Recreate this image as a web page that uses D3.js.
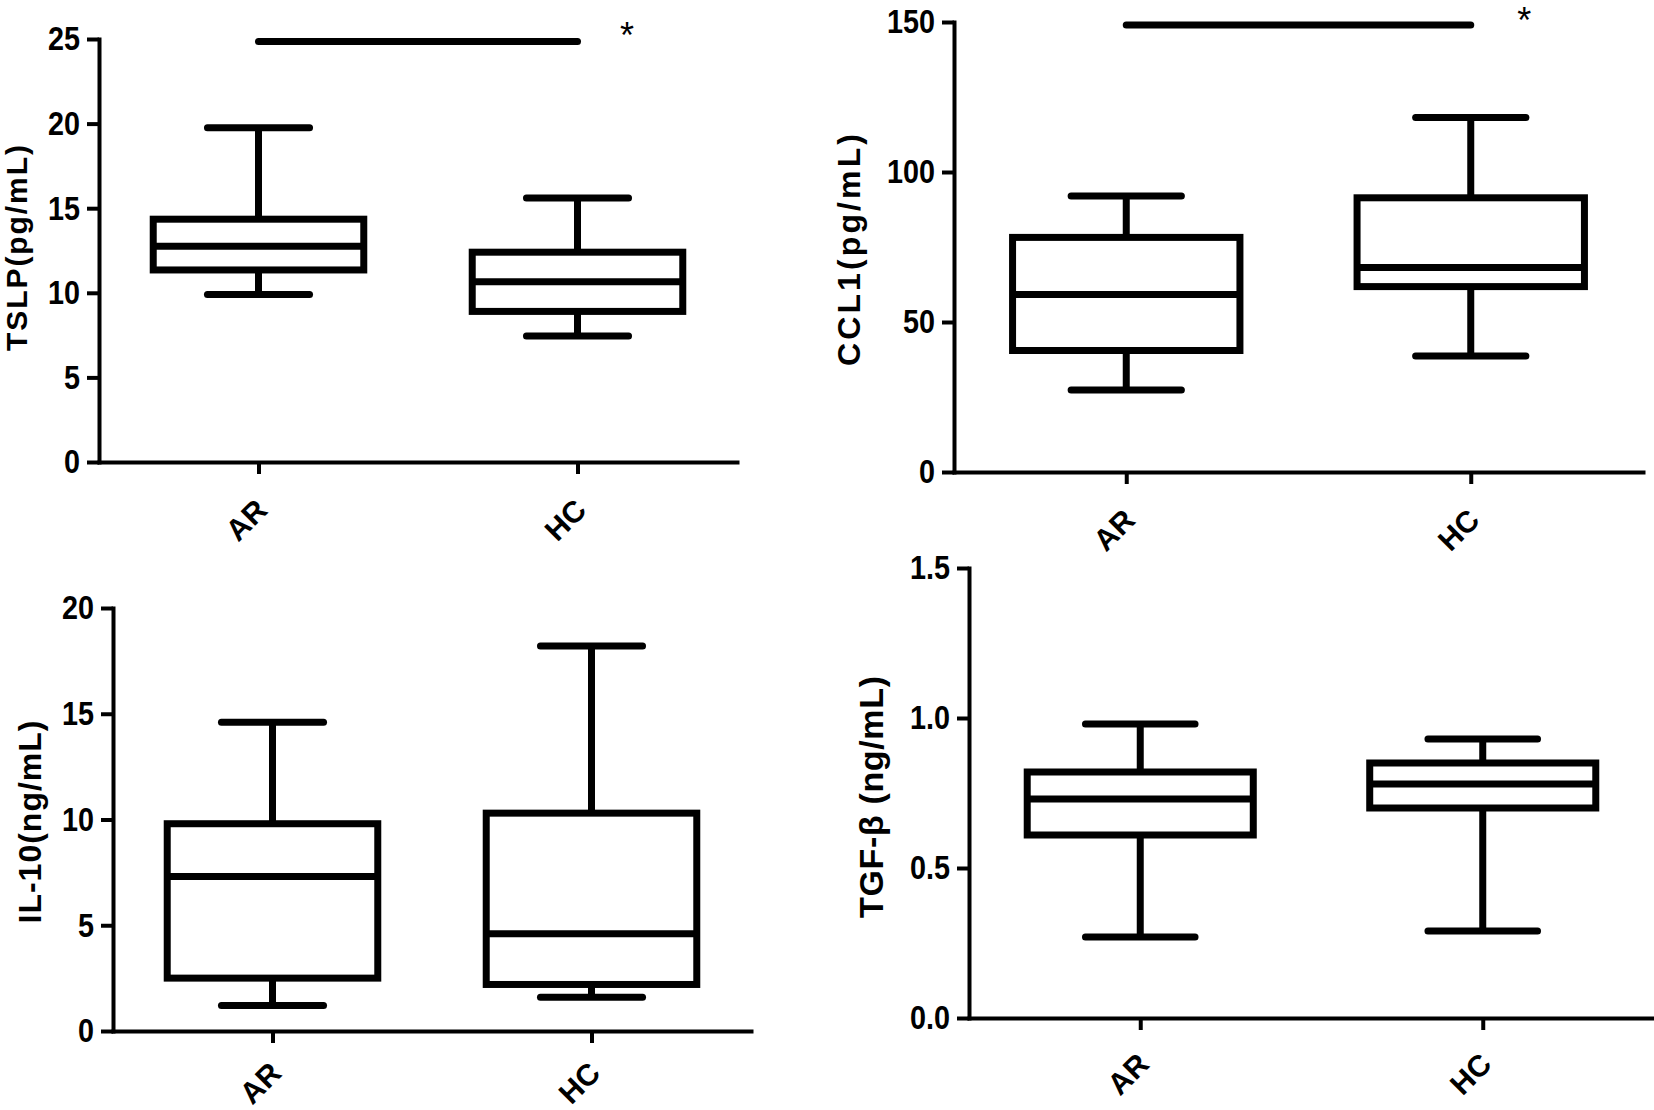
<!DOCTYPE html>
<html>
<head>
<meta charset="utf-8">
<script src="https://cdn.jsdelivr.net/npm/d3@7"></script>
<style>
  body { margin: 0; background: #fff; }
</style>
</head>
<body>
<script>
// groups on the x axis
const groups = ["AR", "HC"];

// box statistics per group: [min, Q1, median, Q3, max]
const tslp = [[9.9, 11.35, 12.75, 14.35, 19.75], [7.45, 8.9, 10.65, 12.4, 15.6]];
const ccl1 = [[27.3, 40.5, 59.2, 78.2, 92.0], [38.7, 61.8, 68.2, 91.4, 118.2]];
const il10 = [[1.2, 2.5, 7.3, 9.8, 14.6], [1.6, 2.2, 4.6, 10.3, 18.2]];
const tgfb = [[0.27, 0.61, 0.73, 0.82, 0.98], [0.29, 0.70, 0.78, 0.85, 0.93]];

// y tick values
const tslpTicks = [0, 5, 10, 15, 20, 25];
const ccl1Ticks = [0, 50, 100, 150];
const il10Ticks = [0, 5, 10, 15, 20];
const tgfbTicks = [0, 0.5, 1.0, 1.5];

// significance bar level and asterisk level (null = none)
const sigBar = [24.85, 149, null, null];
const sigStar = [25.7, 153.3, null, null];

const width = 1654;
const height = 1110;

const svg = d3.select("body").append("svg")
    .attr("width", width)
    .attr("height", height)
    .attr("xmlns", "http://www.w3.org/2000/svg");

svg.append("rect")
    .attr("width", width)
    .attr("height", height)
    .attr("fill", "#fff");

// layout of the four panels (pixel frames); ldy = offset of the rotated group labels
const panels = [
    { stats: tslp, ticks: tslpTicks, fmt: d3.format("d"), label: "TSLP(pg/mL)",
      x0: 99, x1: 737, top: 39, bottom: 462, lx: 27, ly: 248, lsize: 30, llen: 206, ldy: 50 },
    { stats: ccl1, ticks: ccl1Ticks, fmt: d3.format("d"), label: "CCL1(pg/mL)",
      x0: 954, x1: 1643, top: 22, bottom: 472, lx: 860, ly: 250, lsize: 32, llen: 232, ldy: 50 },
    { stats: il10, ticks: il10Ticks, fmt: d3.format("d"), label: "IL-10(ng/mL)",
      x0: 113, x1: 751, top: 608, bottom: 1031, lx: 41, ly: 822, lsize: 32, llen: 203, ldy: 44 },
    { stats: tgfb, ticks: tgfbTicks, fmt: d3.format(".1f"), label: "TGF-β (ng/mL)",
      x0: 969, x1: 1654, top: 568, bottom: 1018, lx: 883, ly: 797, lsize: 34, llen: 242, ldy: 48 }
];

const labelFont = "'Liberation Sans', Arial, sans-serif";
// tick digits are narrow in the original: squeeze them
const tickWidth = s => Array.from(s).reduce((w, c) => w + (c === "." ? 8 : 16), 0);

panels.forEach((p, i) => {
    const g = svg.append("g");

    const x = d3.scalePoint()
        .domain(groups)
        .range([p.x0, p.x1])
        .padding(0.5);
    const y = d3.scaleLinear()
        .domain([0, d3.max(p.ticks)])
        .range([p.bottom, p.top]);

    const step = x.step();
    const boxHalf = step * 0.33;
    const capHalf = step * 0.16;

    // boxes and whiskers
    const box = g.selectAll("g.box")
        .data(p.stats)
        .enter()
        .append("g")
        .attr("class", "box");

    box.append("line") // whisker
        .attr("x1", (d, j) => x(groups[j]))
        .attr("x2", (d, j) => x(groups[j]))
        .attr("y1", d => y(d[0]))
        .attr("y2", d => y(d[4]))
        .attr("stroke", "#000")
        .attr("stroke-width", 7);

    box.append("rect")
        .attr("x", (d, j) => x(groups[j]) - boxHalf)
        .attr("y", d => y(d[3]))
        .attr("width", boxHalf * 2)
        .attr("height", d => y(d[1]) - y(d[3]))
        .attr("fill", "#fff")
        .attr("stroke", "#000")
        .attr("stroke-width", 7);

    box.append("line") // median
        .attr("x1", (d, j) => x(groups[j]) - boxHalf)
        .attr("x2", (d, j) => x(groups[j]) + boxHalf)
        .attr("y1", d => y(d[2]))
        .attr("y2", d => y(d[2]))
        .attr("stroke", "#000")
        .attr("stroke-width", 7);

    [0, 4].forEach(k => {
        box.append("line") // caps
            .attr("x1", (d, j) => x(groups[j]) - capHalf)
            .attr("x2", (d, j) => x(groups[j]) + capHalf)
            .attr("y1", d => y(d[k]))
            .attr("y2", d => y(d[k]))
            .attr("stroke", "#000")
            .attr("stroke-width", 7)
            .attr("stroke-linecap", "round");
    });

    // axes
    const yAxis = g.append("g")
        .attr("transform", `translate(${p.x0},0)`)
        .call(d3.axisLeft(y)
            .tickValues(p.ticks)
            .tickFormat(p.fmt)
            .tickSize(12)
            .tickSizeOuter(0)
            .tickPadding(7));
    yAxis.select(".domain").attr("stroke-width", 4).attr("stroke-linecap", "square");
    yAxis.selectAll(".tick line").attr("stroke-width", 4);
    yAxis.selectAll(".tick text")
        .attr("fill", "#000")
        .attr("textLength", d => tickWidth(p.fmt(d)))
        .attr("lengthAdjust", "spacingAndGlyphs")
        .style("font-family", labelFont)
        .style("font-weight", "bold")
        .style("font-size", "34px");

    const xAxis = g.append("g")
        .attr("transform", `translate(0,${p.bottom})`)
        .call(d3.axisBottom(x)
            .tickSize(12)
            .tickSizeOuter(0));
    xAxis.select(".domain").attr("stroke-width", 4).attr("stroke-linecap", "square");
    xAxis.selectAll(".tick line").attr("stroke-width", 4);
    xAxis.selectAll(".tick text").remove();
    xAxis.selectAll(".tick")
        .append("text")
        .attr("transform", `translate(10,${p.ldy}) rotate(-45)`)
        .attr("text-anchor", "end")
        .attr("fill", "#000")
        .style("font-family", labelFont)
        .style("font-weight", "bold")
        .style("font-size", "30px")
        .text(d => d);

    // y label
    g.append("text")
        .attr("transform", `translate(${p.lx},${p.ly}) rotate(-90)`)
        .attr("text-anchor", "middle")
        .attr("textLength", p.llen)
        .attr("lengthAdjust", "spacing")
        .attr("fill", "#000")
        .style("font-family", labelFont)
        .style("font-weight", "bold")
        .style("font-size", p.lsize + "px")
        .text(p.label);

    // significance
    if (sigBar[i] !== null) {
        g.append("line")
            .attr("x1", x(groups[0]))
            .attr("x2", x(groups[1]))
            .attr("y1", y(sigBar[i]))
            .attr("y2", y(sigBar[i]))
            .attr("stroke", "#000")
            .attr("stroke-width", 7)
            .attr("stroke-linecap", "round");
        g.append("text")
            .attr("x", x(groups[1]) + step * 0.155)
            .attr("y", y(sigStar[i]))
            .attr("dy", "0.58em")
            .attr("text-anchor", "middle")
            .attr("fill", "#000")
            .style("font-family", labelFont)
            .style("font-size", "36px")
            .text("*");
    }
});
</script>
</body>
</html>
